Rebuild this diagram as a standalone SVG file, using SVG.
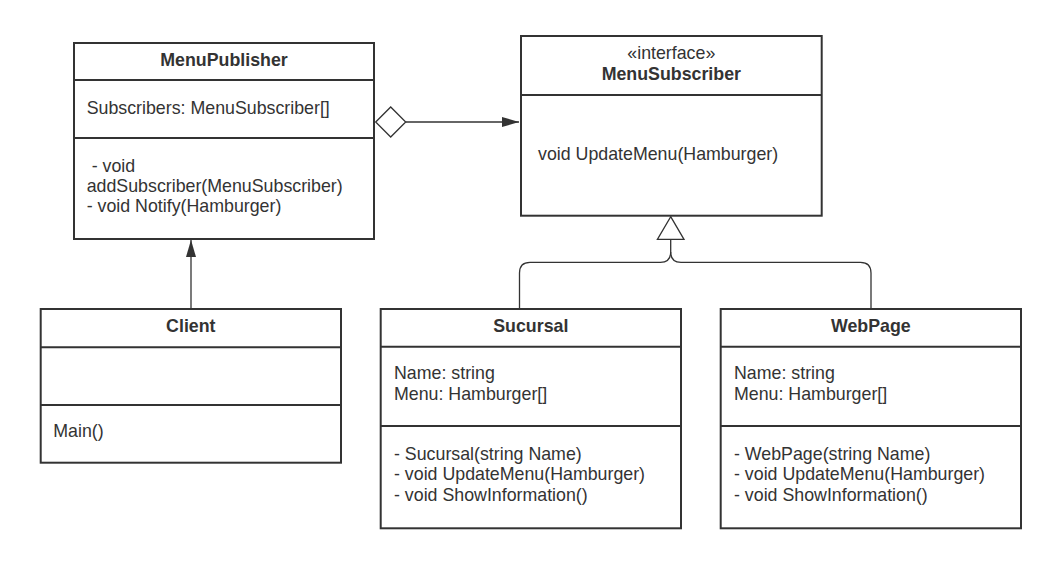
<svg xmlns="http://www.w3.org/2000/svg" width="1056" height="566" viewBox="0 0 1056 566">
<style>
.box{fill:#fff;stroke:#333;stroke-width:2}
.div{stroke:#333;stroke-width:2}
.t{font-family:"Liberation Sans",Arial,sans-serif;font-size:17.8px;fill:#333}
.b{font-weight:bold;text-anchor:middle}
.c{text-anchor:middle}
.con{fill:none;stroke:#333;stroke-width:1.3}
</style>
<defs>
<marker id="arr" markerWidth="18" markerHeight="12" refX="17" refY="5" orient="auto" markerUnits="userSpaceOnUse" viewBox="0 0 18 10">
<path d="M0,0 L17,5 L0,10 Z" fill="#333"/>
</marker>
</defs>
<rect width="1056" height="566" fill="#fff"/>
<g id="connectors">
<path class="con" d="M405.7,122 H519" marker-end="url(#arr)"/>
<path d="M375.7,122 L390.7,107 L405.7,122 L390.7,137 Z" fill="#fff" stroke="#333" stroke-width="1.3"/>
<path class="con" d="M191,309 V240" marker-end="url(#arr)"/>
<path class="con" d="M670.7,239.3 V252 Q670.7,262.3 660.4,262.3 H530 Q519.5,262.3 519.5,273 V309"/>
<path class="con" d="M670.7,252 Q670.7,262.3 681,262.3 H860.5 Q871,262.3 871,273 V309"/>
<path d="M670.7,216.7 L684,239.3 L657.4,239.3 Z" fill="#fff" stroke="#333" stroke-width="1.3"/>
</g>
<g id="MenuPublisher">
<rect class="box" x="74" y="43" width="300" height="196"/>
<line class="div" x1="74" y1="80" x2="374" y2="80"/>
<line class="div" x1="74" y1="138" x2="374" y2="138"/>
<text class="t b" x="224" y="65.5">MenuPublisher</text>
<text class="t" x="86.7" y="114">Subscribers: MenuSubscriber[]</text>
<text class="t" x="86.7" y="172" xml:space="preserve"> - void</text>
<text class="t" x="86.7" y="192">addSubscriber(MenuSubscriber)</text>
<text class="t" x="86.7" y="212">- void Notify(Hamburger)</text>
</g>
<g id="MenuSubscriber">
<rect class="box" x="521" y="36" width="300.7" height="179.7"/>
<line class="div" x1="521" y1="95" x2="821.7" y2="95"/>
<text class="t c" x="671.3" y="59">«interface»</text>
<text class="t b" x="671.3" y="80">MenuSubscriber</text>
<text class="t" x="538" y="159.5">void UpdateMenu(Hamburger)</text>
</g>
<g id="Client">
<rect class="box" x="40.7" y="309" width="300.3" height="153.7"/>
<line class="div" x1="40.7" y1="347.3" x2="341" y2="347.3"/>
<line class="div" x1="40.7" y1="405" x2="341" y2="405"/>
<text class="t b" x="190.8" y="331.7">Client</text>
<text class="t" x="53.3" y="437">Main()</text>
</g>
<g id="Sucursal">
<rect class="box" x="380.7" y="309" width="300.3" height="219.3"/>
<line class="div" x1="380.7" y1="346.7" x2="681" y2="346.7"/>
<line class="div" x1="380.7" y1="426" x2="681" y2="426"/>
<text class="t b" x="530.8" y="331.7">Sucursal</text>
<text class="t" x="394" y="379.3">Name: string</text>
<text class="t" x="394" y="400">Menu: Hamburger[]</text>
<text class="t" x="394" y="459.5">- Sucursal(string Name)</text>
<text class="t" x="394" y="480">- void UpdateMenu(Hamburger)</text>
<text class="t" x="394" y="500.5">- void ShowInformation()</text>
</g>
<g id="WebPage">
<rect class="box" x="720.7" y="309" width="300.3" height="219.3"/>
<line class="div" x1="720.7" y1="346.7" x2="1021" y2="346.7"/>
<line class="div" x1="720.7" y1="426" x2="1021" y2="426"/>
<text class="t b" x="870.8" y="331.7">WebPage</text>
<text class="t" x="734" y="379.3">Name: string</text>
<text class="t" x="734" y="400">Menu: Hamburger[]</text>
<text class="t" x="734" y="459.5">- WebPage(string Name)</text>
<text class="t" x="734" y="480">- void UpdateMenu(Hamburger)</text>
<text class="t" x="734" y="500.5">- void ShowInformation()</text>
</g>
</svg>
